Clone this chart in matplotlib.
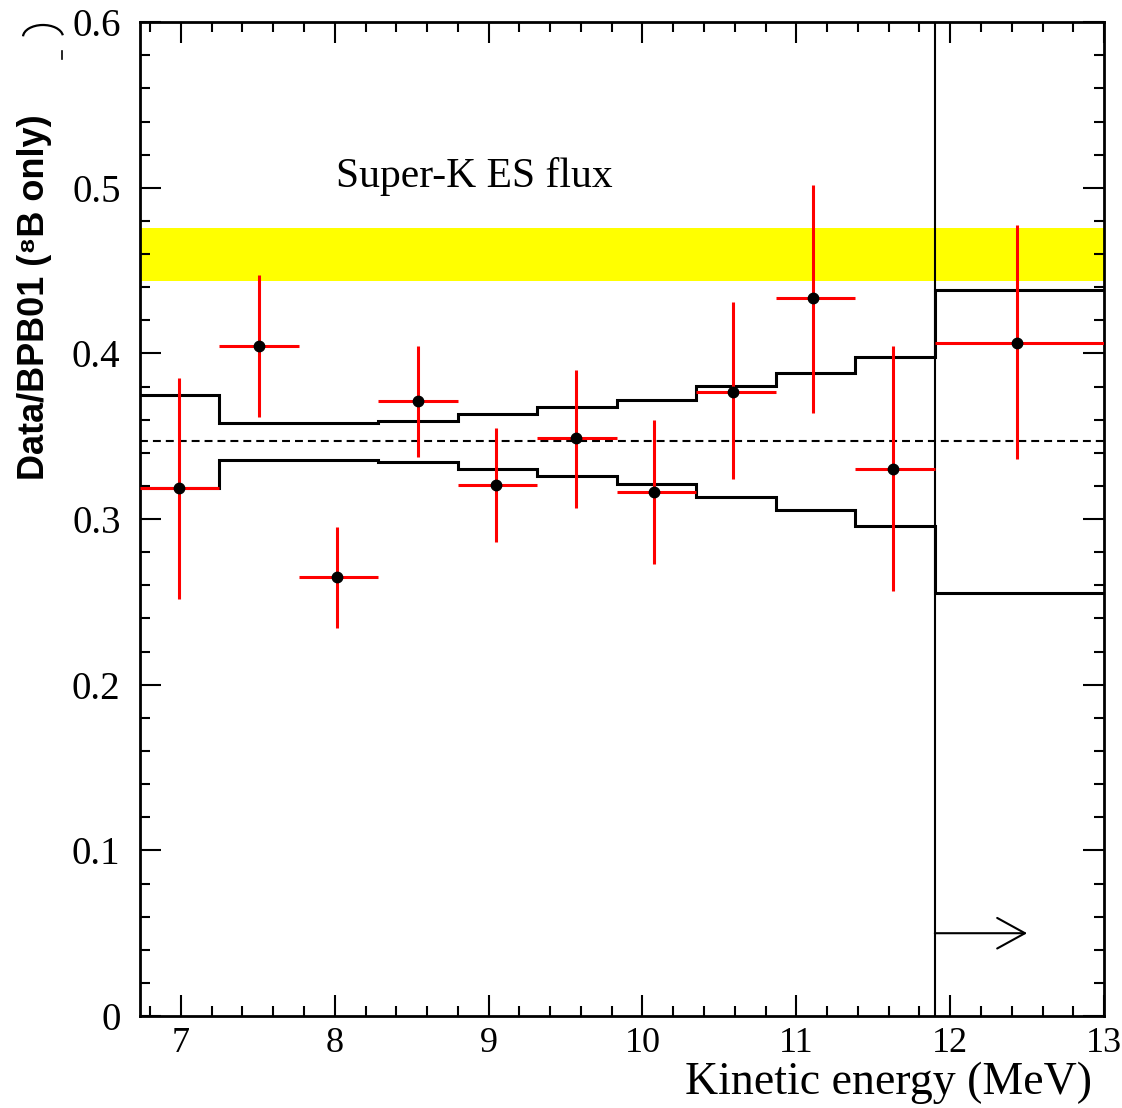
import matplotlib
matplotlib.use("Agg")
import matplotlib.pyplot as plt
from matplotlib.ticker import MultipleLocator
from matplotlib.lines import Line2D
from matplotlib.patches import Arc

# ---- data ----
bin_edges = [6.734, 7.25, 7.767, 8.284, 8.8, 9.317, 9.834, 10.35, 10.867, 11.384, 11.9, 13.0]
band_upper = [0.375, 0.358, 0.358, 0.359, 0.3634, 0.3674, 0.3722, 0.3803, 0.3885, 0.3976, 0.4386]
band_lower = [0.3185, 0.3354, 0.3354, 0.3344, 0.3302, 0.3262, 0.321, 0.3131, 0.3054, 0.2958, 0.2551]

x_pts = [6.99, 7.506, 8.017, 8.539, 9.05, 9.565, 10.078, 10.589, 11.107, 11.625, 12.437]
y_pts = [0.3185, 0.4042, 0.2648, 0.3712, 0.3203, 0.3487, 0.3161, 0.3769, 0.4332, 0.3302, 0.4064]
y_top = [0.3849, 0.4473, 0.2954, 0.4048, 0.3547, 0.3903, 0.3598, 0.4312, 0.5016, 0.4048, 0.4775]
y_bot = [0.2517, 0.3614, 0.2344, 0.3376, 0.2859, 0.307, 0.2727, 0.3241, 0.3638, 0.2567, 0.336]

superk_band = (0.444, 0.476)
mean_ratio = 0.347
overflow_edge = 11.9
arrow_end = 12.5
arrow_y = 0.05

xticks = [7, 8, 9, 10, 11, 12, 13]
yticks = [0, 0.1, 0.2, 0.3, 0.4, 0.5, 0.6]
ytick_labels = ["0", "0.1", "0.2", "0.3", "0.4", "0.5", "0.6"]

# ---- figure ----
serif = ["Liberation Serif", "DejaVu Serif"]

fig = plt.figure(figsize=(11.22, 11.08), dpi=100)
ax = fig.add_axes([0.1248, 0.083, 0.984 - 0.1248, 0.980 - 0.083])

ax.set_xlim(bin_edges[0], 13.0)
ax.set_ylim(0, 0.6)

ax.axhspan(superk_band[0], superk_band[1], color="#ffff00", lw=0, zorder=1)
ax.axhline(mean_ratio, color="black", lw=1.5, dashes=(3.8, 2.4), zorder=2)

ax.stairs(band_upper, bin_edges, color="black", lw=2.2, baseline=None, zorder=3)
ax.stairs(band_lower, bin_edges, color="black", lw=2.2, baseline=None, zorder=3)
ax.axvline(overflow_edge, color="black", lw=1.5, zorder=3)

xerr_lo = [x - bin_edges[i] for i, x in enumerate(x_pts)]
xerr_hi = [bin_edges[i + 1] - x for i, x in enumerate(x_pts)]
yerr_lo = [y - b for y, b in zip(y_pts, y_bot)]
yerr_hi = [t - y for y, t in zip(y_pts, y_top)]
ax.errorbar(x_pts, y_pts, xerr=[xerr_lo, xerr_hi], yerr=[yerr_lo, yerr_hi],
            fmt="o", color="black", ms=7.5, ecolor="#ff0000", elinewidth=2.2,
            capsize=0, zorder=4)

ax.annotate("", xy=(arrow_end, arrow_y), xytext=(overflow_edge, arrow_y),
            arrowprops=dict(arrowstyle="->,head_length=0.4,head_width=0.22",
                            color="black", lw=1.5, mutation_scale=50,
                            shrinkA=0, shrinkB=0), zorder=5)

ax.text(8.011, 0.5004, "Super-K ES flux", fontsize=30, family=serif,
        ha="left", va="baseline")

# ticks
ax.set_xticks(xticks)
ax.set_xticklabels([str(t) for t in xticks])
ax.set_yticks(yticks)
ax.set_yticklabels(ytick_labels)
ax.xaxis.set_minor_locator(MultipleLocator(0.2))
ax.yaxis.set_minor_locator(MultipleLocator(0.02))
ax.tick_params(which="both", direction="in", top=True, right=True, width=1.5)
ax.tick_params(which="major", length=15)
ax.tick_params(which="minor", length=7.5)
ax.tick_params(axis="y", which="major", pad=14, labelsize=28)
ax.tick_params(axis="x", which="major", pad=8, labelsize=26)
for lab in ax.get_xticklabels() + ax.get_yticklabels():
    lab.set_family(serif)
for sp in ax.spines.values():
    sp.set_linewidth(2)

fig.text(0.973, 0.0226, "Kinetic energy (MeV)", fontsize=33, family=serif,
         ha="right", va="center")
fig.text(0.031, 0.732, "Data/BPB01 (\u2078B only)", fontsize=26,
         family=["Liberation Sans", "DejaVu Sans"], fontweight="bold",
         rotation=90, ha="center", va="center")
# small clipped glyph fragment at top-left of the original
fig.add_artist(Arc((43 / 1122, 1 - 37 / 1108), 40 / 1122, 24 / 1108,
                   theta1=5, theta2=178, lw=1.6, color="black",
                   transform=fig.transFigure))
fig.add_artist(Line2D([62 / 1122, 62 / 1122], [1 - 51 / 1108, 1 - 59 / 1108],
                      lw=1.2, color="black", transform=fig.transFigure))

fig.savefig("out.png", dpi=100)
